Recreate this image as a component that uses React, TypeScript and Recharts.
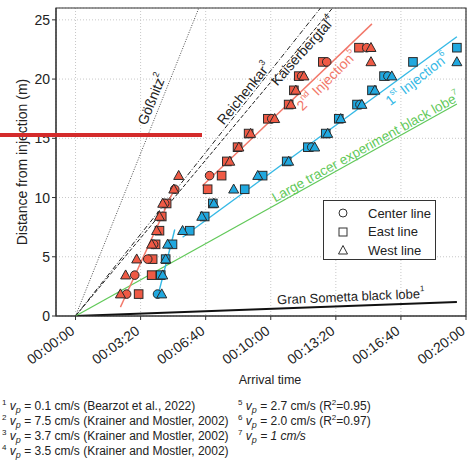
import React from "react";
import {
  ComposedChart,
  XAxis,
  YAxis,
  CartesianGrid,
  Scatter,
  Line,
  ReferenceArea,
  ReferenceDot,
} from "recharts";

// ---- arrival times (s) / distances (m), 2nd injection (red) ----
const secondCenter = [
  { t: 157, d: 1.85 }, { t: 182, d: 3.45 }, { t: 222, d: 4.8 }, { t: 240, d: 6.05 },
  { t: 274, d: 9.5 }, { t: 305, d: 10.7 }, { t: 412, d: 11.85 }, { t: 603, d: 16.65 },
  { t: 695, d: 20.25 }, { t: 772, d: 21.45 }, { t: 895, d: 22.65 },
];
const secondEast = [
  { t: 194, d: 1.85 }, { t: 234, d: 3.45 }, { t: 237, d: 4.8 }, { t: 246, d: 6.05 },
  { t: 258, d: 7.2 }, { t: 265, d: 8.4 }, { t: 280, d: 9.5 }, { t: 406, d: 10.7 },
  { t: 449, d: 11.85 }, { t: 465, d: 13.05 }, { t: 498, d: 14.25 }, { t: 532, d: 15.4 },
  { t: 591, d: 16.65 }, { t: 655, d: 17.85 }, { t: 671, d: 19.05 }, { t: 686, d: 20.25 },
  { t: 760, d: 21.45 }, { t: 871, d: 22.65 },
];
const secondWest = [
  { t: 138, d: 1.85 }, { t: 154, d: 3.45 }, { t: 188, d: 4.8 }, { t: 234, d: 6.05 },
  { t: 249, d: 7.2 }, { t: 258, d: 8.4 }, { t: 268, d: 9.5 }, { t: 302, d: 10.7 },
  { t: 317, d: 11.85 }, { t: 474, d: 13.05 }, { t: 502, d: 14.25 }, { t: 538, d: 15.4 },
  { t: 612, d: 16.65 }, { t: 662, d: 17.85 }, { t: 677, d: 19.05 }, { t: 702, d: 20.25 },
  { t: 908, d: 21.45 }, { t: 908, d: 22.65 },
];

// ---- 1st injection (blue) ----
const firstCenter = [
  { t: 252, d: 1.85 }, { t: 726, d: 14.25 }, { t: 874, d: 17.85 }, { t: 960, d: 20.25 },
];
const firstEast = [
  { t: 262, d: 3.45 }, { t: 277, d: 4.8 }, { t: 298, d: 6.05 }, { t: 351, d: 7.2 },
  { t: 397, d: 8.4 }, { t: 422, d: 9.5 }, { t: 520, d: 10.7 }, { t: 575, d: 11.85 },
  { t: 649, d: 13.05 }, { t: 714, d: 14.25 }, { t: 769, d: 15.4 }, { t: 809, d: 16.65 },
  { t: 865, d: 17.85 }, { t: 911, d: 19.05 }, { t: 948, d: 20.25 }, { t: 1037, d: 21.45 },
  { t: 1172, d: 22.65 },
];
const firstWest = [
  { t: 265, d: 1.85 }, { t: 268, d: 3.45 }, { t: 277, d: 4.8 }, { t: 283, d: 6.05 },
  { t: 329, d: 7.2 }, { t: 388, d: 8.4 }, { t: 425, d: 9.5 }, { t: 486, d: 10.7 },
  { t: 560, d: 11.85 }, { t: 655, d: 13.05 }, { t: 735, d: 14.25 }, { t: 775, d: 15.4 },
  { t: 815, d: 16.65 }, { t: 880, d: 17.85 }, { t: 920, d: 19.05 }, { t: 972, d: 20.25 },
  { t: 1172, d: 21.45 },
];

// ---- velocity lines ----
const gossnitzLine = [{ t: 0, d: 0 }, { t: 379, d: 26 }];
const reichenkarLine = [{ t: 0, d: 0 }, { t: 753, d: 26 }];
const kaiserbergtalLine = [{ t: 0, d: 0 }, { t: 790, d: 26 }];
const sometaLine = [{ t: 0, d: 0 }, { t: 1172, d: 1.18 }];
const tracerLine = [{ t: 0, d: 0 }, { t: 1172, d: 17.9 }];
const secondFitEarly = [{ t: 138, d: 0.75 }, { t: 300, d: 10.5 }];
const secondFitLate = [{ t: 390, d: 11.0 }, { t: 911, d: 24.66 }];
const firstFitEarly = [{ t: 255, d: 1.9 }, { t: 305, d: 7.3 }];
const firstFitLate = [{ t: 329, d: 6.65 }, { t: 1172, d: 23.57 }];

const xTicks = [0, 200, 400, 600, 800, 1000, 1200];
const yTicks = [0, 5, 10, 15, 20, 25];

const RED = "#ef5a45";
const BLUE = "#20a8df";
const RED_LINE = "#f2786a";
const BLUE_LINE = "#35b9e6";
const GREEN = "#62c95a";
const FONT = "'Liberation Sans', Arial, sans-serif";

type Lbl = { t: number; d: number; angle: number; color: string; size: number; parts: [string, boolean][] };
const lineLabels: Lbl[] = [
  { t: 234, d: 18.3, angle: 68, color: "#222", size: 14, parts: [["Gößnitz", false], ["2", true]] },
  { t: 517, d: 18.8, angle: 51, color: "#222", size: 14, parts: [["Reichenkar", false], ["3", true]] },
  { t: 698, d: 22.4, angle: 48, color: "#222", size: 14, parts: [["Kaiserbergtal", false], ["4", true]] },
  { t: 772, d: 19.9, angle: 45, color: RED_LINE, size: 14, parts: [["2", false], ["nd", true], [" Injection", false], ["5", true]] },
  { t: 1049, d: 20.0, angle: 38, color: BLUE_LINE, size: 14, parts: [["1", false], ["st", true], [" Injection", false], ["6", true]] },
  { t: 892, d: 14.3, angle: 29, color: GREEN, size: 13.5, parts: [["Large tracer experiment black lobe", false], ["7", true]] },
  { t: 846, d: 1.68, angle: 2.5, color: "#222", size: 13, parts: [["Gran Sometta black lobe", false], ["1", true]] },
];

const pad = (n: number) => String(n).padStart(2, "0");
const clock = (s: number) => `${pad(Math.floor(s / 3600))}:${pad(Math.floor((s % 3600) / 60))}:${pad(s % 60)}`;

const Circle = (p: any) => (
  <circle cx={p.cx} cy={p.cy} r={4.3} fill={p.fill} stroke="#2a2a2a" strokeWidth={1} />
);
const Square = (p: any) => (
  <rect x={p.cx - 4.3} y={p.cy - 4.3} width={8.6} height={8.6} fill={p.fill} stroke="#2a2a2a" strokeWidth={1} />
);
const Triangle = (p: any) => (
  <polygon
    points={`${p.cx},${p.cy - 5.2} ${p.cx + 5},${p.cy + 3.8} ${p.cx - 5},${p.cy + 3.8}`}
    fill={p.fill}
    stroke="#2a2a2a"
    strokeWidth={1}
  />
);

const XTick = (p: any) => (
  <g transform={`translate(${p.x},${p.y})`}>
    <text
      x={0}
      y={11}
      textAnchor="end"
      transform="rotate(-36 0 11)"
      fontSize={14}
      fill="#222"
      fontFamily={FONT}
    >
      {clock(p.payload.value)}
    </text>
  </g>
);

const renderLabel = (l: Lbl) => (p: any) => {
  const sup = l.size * 0.62;
  const shift = l.size * 0.38;
  let up = false;
  return (
    <text
      x={p.cx}
      y={p.cy}
      textAnchor="middle"
      dominantBaseline="central"
      transform={`rotate(${-l.angle} ${p.cx} ${p.cy})`}
      fontSize={l.size}
      fill={l.color}
      fontFamily={FONT}
    >
      {l.parts.map(([s, isSup], i) => {
        const dy = isSup && !up ? -shift : !isSup && up ? shift : 0;
        up = isSup;
        return (
          <tspan key={i} dy={dy} fontSize={isSup ? sup : l.size}>
            {s}
          </tspan>
        );
      })}
    </text>
  );
};

const LegendMark = ({ kind }: { kind: string }) => (
  <svg width={12} height={12} style={{ display: "block" }}>
    {kind === "c" && <circle cx={6} cy={6} r={4} fill="none" stroke="#333" strokeWidth={1} />}
    {kind === "s" && <rect x={2} y={2} width={8} height={8} fill="none" stroke="#333" strokeWidth={1} />}
    {kind === "t" && <polygon points="6,1.5 10.5,10 1.5,10" fill="none" stroke="#333" strokeWidth={1} />}
  </svg>
);

const legendItems = [
  { kind: "c", text: "Center line" },
  { kind: "s", text: "East line" },
  { kind: "t", text: "West line" },
];

const Up = ({ children }: { children: React.ReactNode }) => (
  <span style={{ fontSize: 8, position: "relative", top: -5 }}>{children}</span>
);
const Down = ({ children }: { children: React.ReactNode }) => (
  <span style={{ fontSize: 9, position: "relative", top: 3 }}>{children}</span>
);

const footLeft: [string, React.ReactNode][] = [
  ["1", "= 0.1 cm/s (Bearzot et al., 2022)"],
  ["2", "= 7.5 cm/s (Krainer and Mostler, 2002)"],
  ["3", "= 3.7 cm/s (Krainer and Mostler, 2002)"],
  ["4", "= 3.5 cm/s (Krainer and Mostler, 2002)"],
];
const footRight: [string, React.ReactNode][] = [
  ["5", <>= 2.7 cm/s (R<Up>2</Up>=0.95)</>],
  ["6", <>= 2.0 cm/s (R<Up>2</Up>=0.97)</>],
  ["7", <i>= 1 cm/s</i>],
];

const FootLine = ({ n, body }: { n: string; body: React.ReactNode }) => (
  <div style={{ height: 15, lineHeight: "15px", whiteSpace: "nowrap" }}>
    <Up>{n}</Up>{" "}
    <i>v</i>
    <Down>
      <i>p</i>
    </Down>{" "}
    {body}
  </div>
);

export default function App() {
  return (
    <div style={{ position: "absolute", left: 0, top: 0, width: 467, height: 463, background: "#fff", fontFamily: FONT, color: "#222", overflow: "hidden" }}>
      <ComposedChart width={467} height={463} margin={{ top: 8, right: 1, bottom: 87, left: 0 }}>
        <CartesianGrid stroke="#c8c8c8" strokeDasharray="1 2" />
        <XAxis
          type="number"
          dataKey="t"
          domain={[-60, 1200]}
          ticks={xTicks}
          interval={0}
          height={60}
          tick={<XTick />}
          tickSize={4}
          stroke="#333"
          allowDataOverflow
        />
        <YAxis
          type="number"
          dataKey="d"
          domain={[0, 26]}
          ticks={yTicks}
          interval={0}
          width={56}
          tickSize={4}
          stroke="#333"
          tick={{ fontSize: 14, fill: "#222", fontFamily: FONT }}
          allowDataOverflow
        />
        <XAxis xAxisId="top" orientation="top" type="number" domain={[-60, 1200]} height={0} tick={false} tickLine={false} stroke="#333" />
        <YAxis yAxisId="right" orientation="right" type="number" domain={[0, 26]} width={0} tick={false} tickLine={false} stroke="#333" />
        <ReferenceArea x1={-60} x2={1200} y1={0} y2={26} fill="none" stroke="#333" strokeWidth={1.2} ifOverflow="visible" />

        <Line data={gossnitzLine} dataKey="d" stroke="#222" strokeWidth={0.8} strokeDasharray="1 1.5" dot={false} isAnimationActive={false} />
        <Line data={reichenkarLine} dataKey="d" stroke="#222" strokeWidth={1} strokeDasharray="5 2 1 2" dot={false} isAnimationActive={false} />
        <Line data={kaiserbergtalLine} dataKey="d" stroke="#222" strokeWidth={1} strokeDasharray="4 2" dot={false} isAnimationActive={false} />
        <Line data={sometaLine} dataKey="d" stroke="#111" strokeWidth={2} dot={false} isAnimationActive={false} />
        <Line data={tracerLine} dataKey="d" stroke={GREEN} strokeWidth={1.2} dot={false} isAnimationActive={false} />
        <Line data={secondFitEarly} dataKey="d" stroke={RED_LINE} strokeWidth={1.4} dot={false} isAnimationActive={false} />
        <Line data={secondFitLate} dataKey="d" stroke={RED_LINE} strokeWidth={1.4} dot={false} isAnimationActive={false} />
        <Line data={firstFitEarly} dataKey="d" stroke={BLUE_LINE} strokeWidth={1.4} dot={false} isAnimationActive={false} />
        <Line data={firstFitLate} dataKey="d" stroke={BLUE_LINE} strokeWidth={1.4} dot={false} isAnimationActive={false} />

        <Scatter data={secondEast} dataKey="d" fill={RED} shape={Square} isAnimationActive={false} />
        <Scatter data={secondCenter} dataKey="d" fill={RED} shape={Circle} isAnimationActive={false} />
        <Scatter data={secondWest} dataKey="d" fill={RED} shape={Triangle} isAnimationActive={false} />
        <Scatter data={firstEast} dataKey="d" fill={BLUE} shape={Square} isAnimationActive={false} />
        <Scatter data={firstCenter} dataKey="d" fill={BLUE} shape={Circle} isAnimationActive={false} />
        <Scatter data={firstWest} dataKey="d" fill={BLUE} shape={Triangle} isAnimationActive={false} />

        {lineLabels.map((l, i) => (
          <ReferenceDot key={i} x={l.t} y={l.d} r={0} ifOverflow="visible" shape={renderLabel(l)} />
        ))}
      </ComposedChart>

      {/* axis titles */}
      <div style={{ position: "absolute", left: 0, top: 373, width: 540, textAlign: "center", fontSize: 12.5 }}>Arrival time</div>
      <div
        style={{
          position: "absolute",
          left: 22,
          top: 162,
          transform: "translate(-50%, -50%) rotate(-90deg)",
          fontSize: 14,
          whiteSpace: "nowrap",
        }}
      >
        Distance from injection (m)
      </div>

      {/* marker legend */}
      <div
        style={{
          position: "absolute",
          left: 323,
          top: 200,
          width: 113,
          height: 60,
          border: "1px solid #333",
          background: "#fff",
          boxSizing: "border-box",
          fontSize: 13,
          paddingTop: 3,
        }}
      >
        {legendItems.map((it) => (
          <div key={it.kind} style={{ display: "flex", alignItems: "center", height: 18.5 }}>
            <div style={{ width: 12, marginLeft: 13, marginRight: 19 }}>
              <LegendMark kind={it.kind} />
            </div>
            <span>{it.text}</span>
          </div>
        ))}
      </div>

      {/* highlight bar across the axis */}
      <div style={{ position: "absolute", left: 0, top: 133, width: 202, height: 4, background: "#d42b2b" }} />

      {/* velocity footnotes */}
      <div style={{ position: "absolute", left: 2, top: 399, fontSize: 12 }}>
        {footLeft.map(([n, b]) => (
          <FootLine key={n} n={n} body={b} />
        ))}
      </div>
      <div style={{ position: "absolute", left: 238, top: 399, fontSize: 12 }}>
        {footRight.map(([n, b]) => (
          <FootLine key={n} n={n} body={b} />
        ))}
      </div>
    </div>
  );
}
